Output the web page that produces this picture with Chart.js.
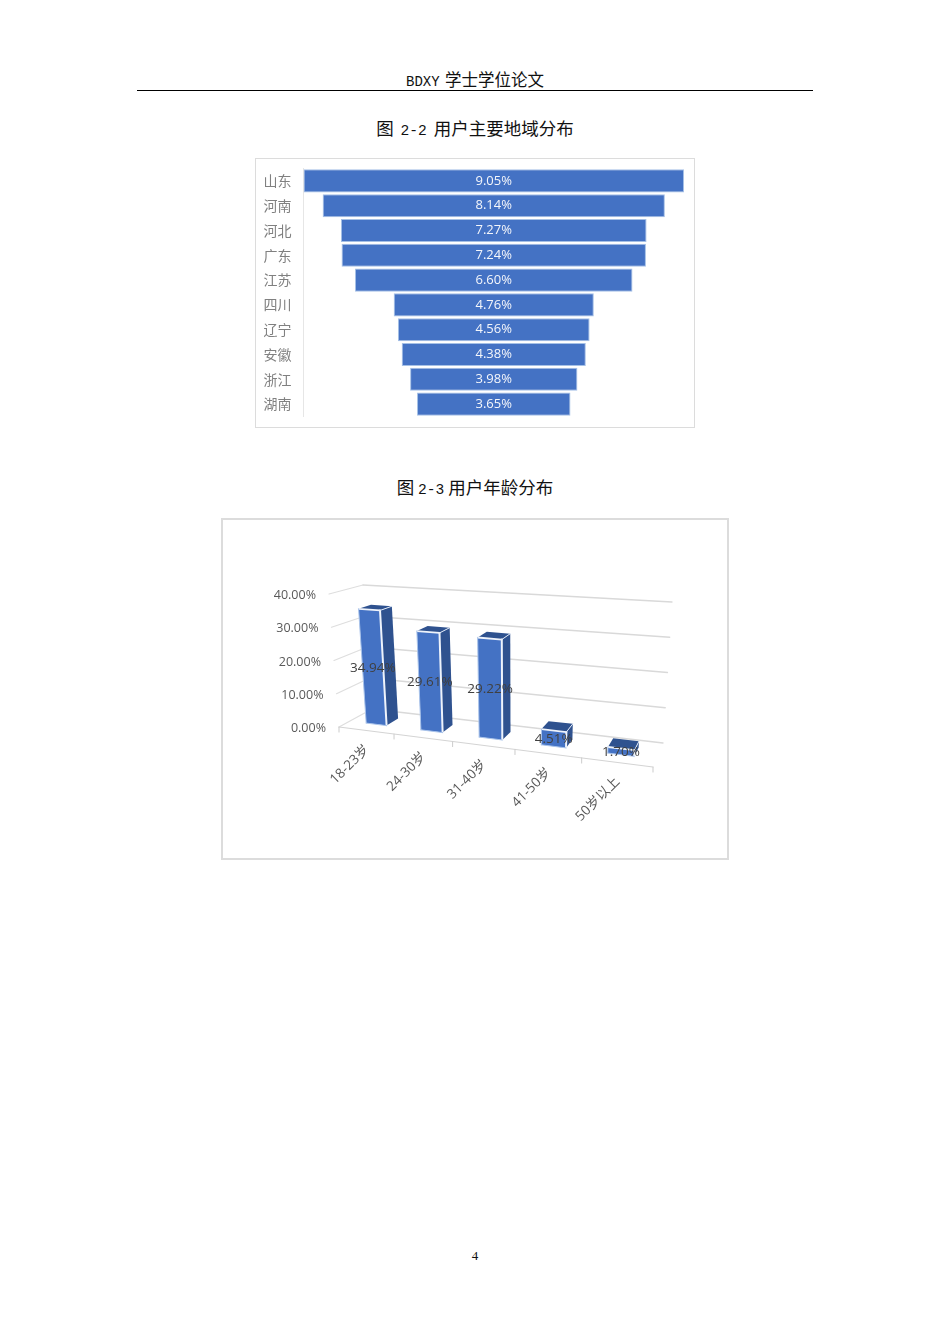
<!DOCTYPE html>
<html lang="zh">
<head>
<meta charset="utf-8">
<script src="https://cdn.jsdelivr.net/npm/chart.js@4/dist/chart.umd.min.js"></script>
<style>
html,body{margin:0;padding:0;background:#fff;width:950px;height:1344px;overflow:hidden}
.t{position:absolute;left:0;width:950px;text-align:center;white-space:pre;color:#111;font-family:"Liberation Mono","Noto Sans CJK SC",sans-serif;line-height:20px}
.frame{position:absolute;box-sizing:border-box;background:#fff}
canvas{position:absolute;left:0;top:0}
</style>
</head>
<body>
<div class="t" style="top:72px;font-size:14px;word-spacing:-3px"><span>BDXY</span> <span style="font-size:16.5px">学士学位论文</span></div>
<div style="position:absolute;left:137px;top:90px;width:676px;height:1px;background:#000"></div>
<div class="t" style="top:120px;font-size:14.6px;word-spacing:-2px"><span style="font-size:17.5px">图</span> 2-2 <span style="font-size:17.5px">用户主要地域分布</span></div>
<div class="t" style="top:479px;font-size:14.6px;word-spacing:-5px"><span style="font-size:17.5px">图</span> 2-3 <span style="font-size:17.5px">用户年龄分布</span></div>
<div class="t" style="top:1246px;font-size:13px;font-family:'Liberation Serif',serif">4</div>

<div class="frame" style="left:255px;top:158px;width:440px;height:270px;border:1px solid #dcdcdc">
  <canvas id="funnel" width="438" height="268"></canvas>
</div>
<div class="frame" style="left:221px;top:518px;width:508px;height:342px;border:2px solid #dcdcdc">
  <canvas id="bars3d" width="504" height="338"></canvas>
</div>

<script>
// ---- Figure 2-2 data ----
const regionNames = ["山东","河南","河北","广东","江苏","四川","辽宁","安徽","浙江","湖南"];
const regionShares = [9.05,8.14,7.27,7.24,6.60,4.76,4.56,4.38,3.98,3.65];
// ---- Figure 2-3 data ----
const ageGroups = ["18-23岁","24-30岁","31-40岁","41-50岁","50岁以上"];
const ageShares = [34.94,29.61,29.22,4.51,1.70];

const pct = v => v.toFixed(2) + "%";
const LATIN = '"Open Sans","Noto Sans CJK SC",sans-serif';
Chart.defaults.animation = false;
Chart.defaults.devicePixelRatio = 1;

// Funnel: bars centred on zero
new Chart(document.getElementById("funnel"), {
  type: "bar",
  data: {
    labels: regionNames,
    datasets: [{
      data: regionShares.map(v => [-v / 2, v / 2]),
      backgroundColor: "#4472c4",
      borderColor: "#a5c0e6",
      borderWidth: 1,
      borderSkipped: false,
      barPercentage: 0.93,
      categoryPercentage: 1
    }]
  },
  options: {
    indexAxis: "y",
    responsive: false,
    layout: { padding: { top: 9.5, bottom: 10.5, right: 10, left: 0 } },
    plugins: { legend: { display: false }, tooltip: { enabled: false } },
    scales: {
      x: { display: false, min: -4.525, max: 4.525 },
      y: {
        afterFit(s) { s.width = 47.5; s.paddingTop = 0; s.paddingBottom = 0; },
        grid: { drawOnChartArea: false, drawTicks: false },
        border: { color: "#e6e6e6", width: 1 },
        ticks: { color: "#808080", padding: 12, font: { family: '"Noto Sans CJK SC"', size: 14 } }
      }
    }
  },
  plugins: [{
    id: "funnelLabels",
    afterDatasetsDraw(chart) {
      const c = chart.ctx;
      c.save();
      c.fillStyle = "#f4f6fb";
      c.font = "13px " + LATIN;
      c.textAlign = "center";
      c.textBaseline = "middle";
      chart.getDatasetMeta(0).data.forEach((el, i) => {
        const xs = chart.scales.x;
        c.fillText(pct(regionShares[i]), xs.getPixelForValue(0), el.y);
      });
      c.restore();
    }
  }]
});

// 3-D column view: a box with eight corners seen in perspective
const OX = 223, OY = 520;           // canvas origin on the page
const corner = {
  flb: [339 - OX, 727 - OY], frb: [653 - OX, 767 - OY],
  flt: [329 - OX, 594 - OY], frt: [661 - OX, 620 - OY],
  blb: [372 - OX, 709 - OY], brb: [663 - OX, 743 - OY],
  blt: [363 - OX, 585 - OY], brt: [672 - OX, 602 - OY]
};
const PERSP = 0.85, DEPTH_FRONT = 0.33, DEPTH_BACK = 0.71;
const mix = (a, b, t) => [a[0] + (b[0] - a[0]) * t, a[1] + (b[1] - a[1]) * t];
function projector(chart) {
  const xs = chart.scales.x, ys = chart.scales.y;
  return (px, py, w) => {
    const r = (px - xs.left) / xs.width;
    const u = PERSP * r / (1 + (PERSP - 1) * r);
    const v = (ys.bottom - py) / ys.height;
    const fb = mix(corner.flb, corner.frb, u), ft = mix(corner.flt, corner.frt, u);
    const bb = mix(corner.blb, corner.brb, u), bt = mix(corner.blt, corner.brt, u);
    return mix(mix(fb, ft, v), mix(bb, bt, v), w);
  };
}
function poly(c, pts, fill, stroke, lw) {
  c.beginPath();
  pts.forEach((p, i) => i ? c.lineTo(p[0], p[1]) : c.moveTo(p[0], p[1]));
  c.closePath();
  if (fill) { c.fillStyle = fill; c.fill(); }
  if (stroke) { c.strokeStyle = stroke; c.lineWidth = lw; c.lineJoin = "round"; c.stroke(); }
}
function seg(c, a, b, color, lw) {
  c.beginPath(); c.moveTo(a[0], a[1]); c.lineTo(b[0], b[1]);
  c.strokeStyle = color; c.lineWidth = lw; c.stroke();
}

new Chart(document.getElementById("bars3d"), {
  type: "bar",
  data: {
    labels: ageGroups,
    datasets: [{
      data: ageShares,
      backgroundColor: "rgba(0,0,0,0)",
      barPercentage: 0.38,
      categoryPercentage: 1
    }]
  },
  options: {
    responsive: false,
    layout: { padding: 20 },
    plugins: { legend: { display: false }, tooltip: { enabled: false } },
    scales: {
      x: { display: false },
      y: { display: false, min: 0, max: 40, ticks: { stepSize: 10 } }
    }
  },
  plugins: [{
    id: "perspective",
    beforeDatasetsDraw(chart) {
      const c = chart.ctx, P = projector(chart);
      const xs = chart.scales.x, ys = chart.scales.y;
      c.save();
      c.lineCap = "round";
      // value gridlines on the side and back walls
      ys.ticks.forEach((t, i) => {
        const py = ys.getPixelForTick(i);
        const a = P(xs.left, py, 0), b = P(xs.left, py, 1), d = P(xs.right, py, 1);
        seg(c, a, b, "#dedede", 1.2);
        seg(c, b, d, "#d9d9d9", 1.3);
        c.fillStyle = "#595959";
        c.font = "12.5px " + LATIN;
        c.textAlign = "right";
        c.textBaseline = "middle";
        c.fillText(pct(t.value), a[0] - 13, a[1] + 1.5);
      });
      // front base line and its ticks
      const by = ys.bottom;
      seg(c, P(xs.left, by, 0), P(xs.right, by, 0), "#d4d4d4", 1.2);
      const n = ageGroups.length;
      for (let i = 0; i <= n; i++) {
        const q = P(xs.left + xs.width * i / n, by, 0);
        seg(c, q, [q[0], q[1] + 5], "#d0d0d0", 1.1);
      }
      // category labels
      c.fillStyle = "#595959";
      c.font = "13.5px " + LATIN;
      ageGroups.forEach((name, i) => {
        const q = P(xs.getPixelForTick(i), by, 0);
        c.save();
        c.translate(q[0] + 1, q[1] + 17);
        c.rotate(-Math.PI / 4);
        c.textAlign = "right";
        c.textBaseline = "middle";
        c.fillText(name, 0, 0);
        c.restore();
      });
      // columns
      chart.getDatasetMeta(0).data.forEach(el => {
        const l = el.x - el.width / 2, r = el.x + el.width / 2;
        const y = el.y, b = el.base, f = DEPTH_FRONT, k = DEPTH_BACK;
        poly(c, [P(r, y, f), P(r, y, k), P(r, b, k), P(r, b, f)], "#2f528f");
        poly(c, [P(l, y, f), P(r, y, f), P(r, y, k), P(l, y, k)], "#2f528f");
        poly(c, [P(l, y, f), P(r, y, f), P(r, b, f), P(l, b, f)], "#4472c4");
        seg(c, P(l, y, f), P(r, y, f), "#eef3fb", 1.8);
        seg(c, P(r, y, f), P(r, b, f), "#eef3fb", 2);
        seg(c, P(r, y, f), P(r, y, k), "#dfe8f6", 1);
        seg(c, P(l, y, f), P(l, b, f), "#a9c3ea", 1);
        seg(c, P(l, b, f), P(r, b, f), "#a9c3ea", 1);
      });
      c.restore();
    },
    afterDatasetsDraw(chart) {
      const c = chart.ctx, P = projector(chart);
      c.save();
      c.fillStyle = "#404040";
      c.font = "13.5px " + LATIN;
      c.textAlign = "center";
      c.textBaseline = "middle";
      chart.getDatasetMeta(0).data.forEach((el, i) => {
        const q = P(el.x, (el.y + el.base) / 2, DEPTH_FRONT);
        c.fillText(pct(ageShares[i]), q[0], q[1] + 1);
      });
      c.restore();
    }
  }]
});
</script>
</body>
</html>
